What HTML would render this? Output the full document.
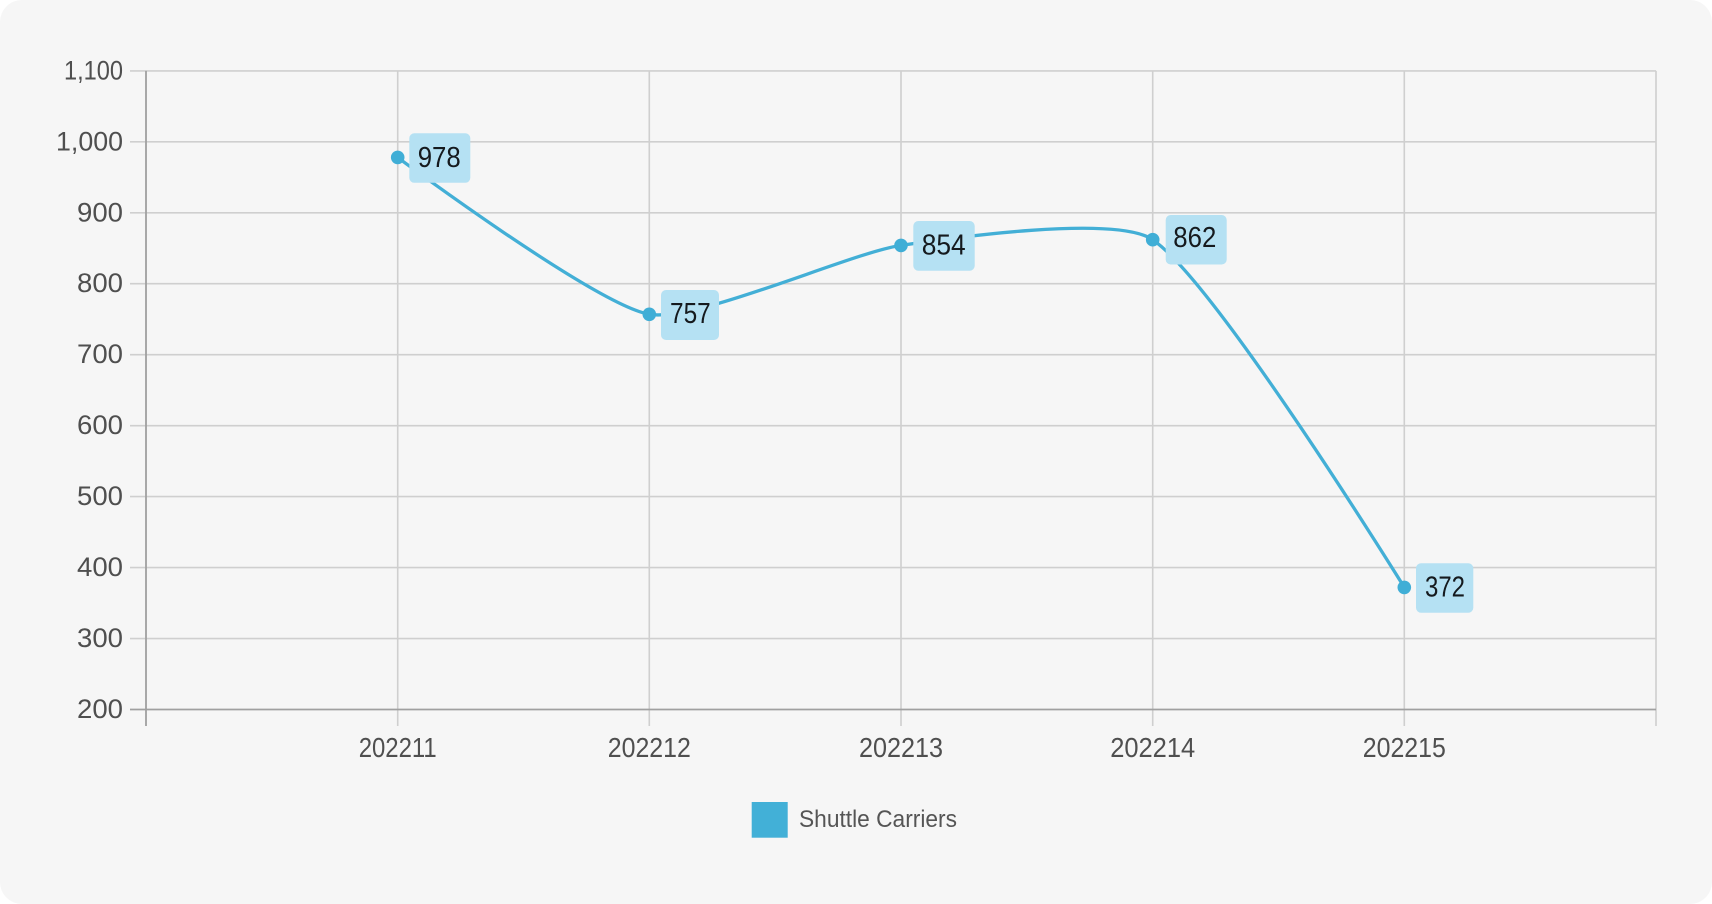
<!DOCTYPE html>
<html>
<head>
<meta charset="utf-8">
<style>
  html,body{margin:0;padding:0;background:#ffffff;}
  body{width:1712px;height:904px;overflow:hidden;}
  .card{position:absolute;left:0;top:0;width:1712px;height:904px;background:#f6f6f6;border-radius:22px;}
  svg{position:absolute;left:0;top:0;}
  text{font-family:"Liberation Sans",sans-serif;}
</style>
</head>
<body>
<div class="card"></div>
<svg width="1712" height="904" viewBox="0 0 1712 904" xmlns="http://www.w3.org/2000/svg">
  <!-- horizontal gridlines -->
  <g stroke="#cfcfcf" stroke-width="1.6">
    <line x1="130" y1="70.9" x2="1656" y2="70.9"/>
    <line x1="130" y1="141.8" x2="1656" y2="141.8"/>
    <line x1="130" y1="212.8" x2="1656" y2="212.8"/>
    <line x1="130" y1="283.7" x2="1656" y2="283.7"/>
    <line x1="130" y1="354.7" x2="1656" y2="354.7"/>
    <line x1="130" y1="425.7" x2="1656" y2="425.7"/>
    <line x1="130" y1="496.6" x2="1656" y2="496.6"/>
    <line x1="130" y1="567.6" x2="1656" y2="567.6"/>
    <line x1="130" y1="638.6" x2="1656" y2="638.6"/>
  </g>
  <!-- vertical gridlines / ticks -->
  <g stroke="#cfcfcf" stroke-width="1.6">
    <line x1="397.7" y1="70.9" x2="397.7" y2="726"/>
    <line x1="649.3" y1="70.9" x2="649.3" y2="726"/>
    <line x1="901.0" y1="70.9" x2="901.0" y2="726"/>
    <line x1="1152.7" y1="70.9" x2="1152.7" y2="726"/>
    <line x1="1404.3" y1="70.9" x2="1404.3" y2="726"/>
    <line x1="1656" y1="70.9" x2="1656" y2="726"/>
  </g>
  <!-- axes -->
  <line x1="146" y1="70.9" x2="146" y2="726" stroke="#a0a0a0" stroke-width="1.8"/>
  <line x1="130" y1="709.5" x2="1656" y2="709.5" stroke="#a0a0a0" stroke-width="1.8"/>

  <!-- y labels -->
  <g fill="#4f4f4f" font-size="26.5" text-anchor="end">
    <text x="123" y="79.4" textLength="59" lengthAdjust="spacingAndGlyphs">1,100</text>
    <text x="123" y="150.3" textLength="67" lengthAdjust="spacingAndGlyphs">1,000</text>
    <text x="123" y="221.3" textLength="46" lengthAdjust="spacingAndGlyphs">900</text>
    <text x="123" y="292.2" textLength="46" lengthAdjust="spacingAndGlyphs">800</text>
    <text x="123" y="363.2" textLength="46" lengthAdjust="spacingAndGlyphs">700</text>
    <text x="123" y="434.2" textLength="46" lengthAdjust="spacingAndGlyphs">600</text>
    <text x="123" y="505.1" textLength="46" lengthAdjust="spacingAndGlyphs">500</text>
    <text x="123" y="576.1" textLength="46" lengthAdjust="spacingAndGlyphs">400</text>
    <text x="123" y="647.1" textLength="46" lengthAdjust="spacingAndGlyphs">300</text>
    <text x="123" y="718.0" textLength="46" lengthAdjust="spacingAndGlyphs">200</text>
  </g>

  <!-- x labels -->
  <g fill="#4f4f4f" font-size="28" text-anchor="middle">
    <text x="397.7" y="757" textLength="78" lengthAdjust="spacingAndGlyphs">202211</text>
    <text x="649.3" y="757" textLength="83" lengthAdjust="spacingAndGlyphs">202212</text>
    <text x="901.0" y="757" textLength="84" lengthAdjust="spacingAndGlyphs">202213</text>
    <text x="1152.7" y="757" textLength="85" lengthAdjust="spacingAndGlyphs">202214</text>
    <text x="1404.3" y="757" textLength="83" lengthAdjust="spacingAndGlyphs">202215</text>
  </g>

  <!-- series line -->
  <path d="M397.7,157.4 C397.7,157.4 595.8,304.9 649.3,314.3 C696.4,322.5 849.8,253.0 901.0,245.4 C950.4,238.1 1115.5,214.4 1152.7,239.7 C1216.1,282.8 1404.3,587.4 1404.3,587.4"
        fill="none" stroke="#43afd6" stroke-width="3.3" stroke-linejoin="round" stroke-linecap="round"/>

  <!-- points -->
  <g fill="#40aed6">
    <circle cx="397.7" cy="157.4" r="6.8"/>
    <circle cx="649.3" cy="314.3" r="6.8"/>
    <circle cx="901.0" cy="245.4" r="6.8"/>
    <circle cx="1152.7" cy="239.7" r="6.8"/>
    <circle cx="1404.3" cy="587.4" r="6.8"/>
  </g>

  <!-- labels -->
  <g fill="#b5e1f3">
    <rect x="409.3" y="133.3" width="61" height="49.5" rx="5"/>
    <rect x="661" y="290" width="58" height="50" rx="5"/>
    <rect x="913.3" y="221" width="61.4" height="49.7" rx="5"/>
    <rect x="1165.7" y="215" width="61" height="49.5" rx="5"/>
    <rect x="1416" y="563.3" width="57.3" height="49.4" rx="5"/>
  </g>
  <g fill="#151a1e" font-size="28.5">
    <text x="417.7" y="167" textLength="43" lengthAdjust="spacingAndGlyphs">978</text>
    <text x="670" y="323" textLength="40.7" lengthAdjust="spacingAndGlyphs">757</text>
    <text x="921.7" y="254.3" textLength="44" lengthAdjust="spacingAndGlyphs">854</text>
    <text x="1173.3" y="247" textLength="43" lengthAdjust="spacingAndGlyphs">862</text>
    <text x="1425" y="596.3" textLength="40" lengthAdjust="spacingAndGlyphs">372</text>
  </g>

  <!-- legend -->
  <rect x="751.7" y="802" width="36" height="35.7" fill="#42b0d7"/>
  <text x="799" y="827" font-size="24.5" fill="#555555" textLength="158" lengthAdjust="spacingAndGlyphs">Shuttle Carriers</text>
</svg>
</body>
</html>
